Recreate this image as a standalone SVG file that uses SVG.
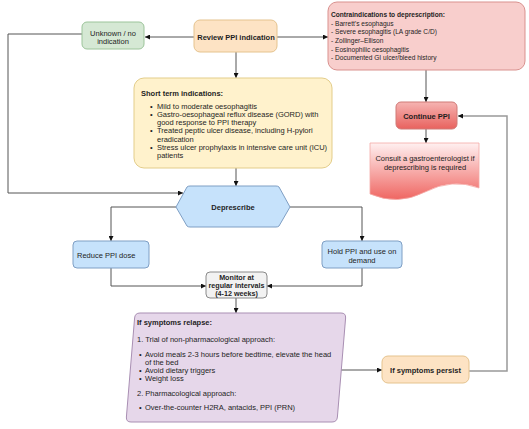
<svg xmlns="http://www.w3.org/2000/svg" width="529" height="429" viewBox="0 0 529 429">
<defs>
<style>
text{font-family:"Liberation Sans",Arial,sans-serif;font-size:7.5px;fill:#1e1e1e}
.b{font-weight:bold}
.c{text-anchor:middle}
.ci{font-size:6.6px}
.m{font-size:7.2px}
.ln{fill:none;stroke:#555;stroke-width:1}
.lnr{fill:none;stroke:#999;stroke-width:1.5}
</style>
<marker id="ar" viewBox="0 0 6 6" refX="6" refY="3" markerWidth="5" markerHeight="5" orient="auto" markerUnits="userSpaceOnUse">
<path d="M0,0 L6,3 L0,6 Z" fill="#111"/>
</marker>
<linearGradient id="gr1" x1="0" y1="0" x2="0" y2="1">
<stop offset="0" stop-color="#f6b4b2"/>
<stop offset="1" stop-color="#e8625e"/>
</linearGradient>
<linearGradient id="gr2" x1="0" y1="0" x2="0" y2="1">
<stop offset="0" stop-color="#fff0f0"/>
<stop offset="1" stop-color="#ef6662"/>
</linearGradient>
</defs>
<rect width="529" height="429" fill="#ffffff"/>

<g id="connectors">
<path class="ln" d="M194,37 H145" marker-end="url(#ar)"/>
<path class="ln" d="M277,37 H328" marker-end="url(#ar)"/>
<path class="ln" d="M236,52 V78" marker-end="url(#ar)"/>
<path class="ln" d="M82,34 H8 V193 H183" marker-end="url(#ar)"/>
<path class="ln" d="M236,168 V186" marker-end="url(#ar)"/>
<path class="ln" d="M426,70 V102" marker-end="url(#ar)"/>
<path class="ln" d="M426,129 V143" marker-end="url(#ar)"/>
<path class="ln" d="M176,207 H111 V241" marker-end="url(#ar)"/>
<path class="ln" d="M290,207 H362 V241" marker-end="url(#ar)"/>
<path class="ln" d="M111,268 V286 H206" marker-end="url(#ar)"/>
<path class="ln" d="M362,268 V286 H267" marker-end="url(#ar)"/>
<path class="ln" d="M236,298 V313" marker-end="url(#ar)"/>
<path class="ln" d="M341,370 H382" marker-end="url(#ar)"/>
<path class="lnr" d="M469,371 H507 V116 H458" marker-end="url(#ar)"/>
</g>

<g id="unknown">
<rect x="82" y="22" width="62" height="27" rx="5" fill="#d5e8d4" stroke="#9cc49a"/>
<text class="c" x="113" y="35.5">Unknown / no</text>
<text class="c" x="113" y="43.5">indication</text>
</g>

<g id="review">
<rect x="194" y="20" width="83" height="32" rx="6" fill="#fde3c4" stroke="#e5c38e"/>
<text class="b c" x="236" y="39.5">Review PPI indication</text>
</g>

<g id="contraindications">
<rect x="328" y="2" width="197" height="68" rx="9" fill="#f8cecc" stroke="#d9918e"/>
<text class="ci b" x="331" y="16.5">Contraindications to deprescription:</text>
<text class="ci" x="331" y="25.5">- Barrett’s esophagus</text>
<text class="ci" x="331" y="34.2">- Severe esophagitis (LA grade C/D)</text>
<text class="ci" x="331" y="42.9">- Zollinger–Ellison</text>
<text class="ci" x="331" y="51.6">- Eosinophilic oesophagitis</text>
<text class="ci" x="331" y="60.3">- Documented GI ulcer/bleed history</text>
</g>

<g id="short-term">
<rect x="134" y="78" width="198" height="90" rx="10" fill="#fff2cc" stroke="#e3cd8a"/>
<text class="b" x="141" y="95.5">Short term indications:</text>
<text x="150" y="108.5">•</text>
<text x="157" y="108.5">Mild to moderate oesophagitis</text>
<text x="150" y="116.8">•</text>
<text x="157" y="116.8">Gastro-oesophageal reflux disease (GORD) with</text>
<text x="157" y="125.1">good response to PPI therapy</text>
<text x="150" y="133.4">•</text>
<text x="157" y="133.4">Treated peptic ulcer disease, including H-pylori</text>
<text x="157" y="141.7">eradication</text>
<text x="150" y="150">•</text>
<text x="157" y="150">Stress ulcer prophylaxis in intensive care unit (ICU)</text>
<text x="157" y="158.3">patients</text>
</g>

<g id="continue">
<rect x="396" y="102" width="61" height="27" rx="5" fill="url(#gr1)" stroke="#d07a77"/>
<text class="b c" x="426.5" y="119">Continue PPI</text>
</g>

<g id="consult">
<path d="M370,143 H479 V188 Q452,178 425,192 Q398,206 370,194 Z" fill="url(#gr2)" stroke="#f4a9a6" stroke-width="0.8"/>
<text class="c" x="425" y="161">Consult a gastroenterologist if</text>
<text class="c" x="425" y="169.5">deprescribing is required</text>
</g>

<g id="deprescribe">
<path d="M176,207 L187,187 Q188,186 190,186 H276 Q278,186 279,187 L290,207 L279,226 Q278,227 276,227 H190 Q188,227 187,226 Z" fill="#c6e2fb" stroke="#7f9fc4"/>
<text class="b c" x="233" y="209.5">Deprescribe</text>
</g>

<g id="reduce">
<rect x="73" y="241" width="76" height="27" rx="4" fill="#c6e2fb" stroke="#7f9fc4"/>
<text x="77" y="257.5">Reduce PPI dose</text>
</g>

<g id="hold">
<rect x="322" y="241" width="80" height="27" rx="4" fill="#c6e2fb" stroke="#7f9fc4"/>
<text class="c" x="362" y="254">Hold PPI and use on</text>
<text class="c" x="362" y="262.5">demand</text>
</g>

<g id="monitor">
<rect x="206" y="272" width="61" height="26" rx="4" fill="#f2f2f2" stroke="#8a8a8a"/>
<text class="b c m" x="236.5" y="279.5">Monitor at</text>
<text class="b c m" x="236.5" y="288">regular intervals</text>
<text class="b c m" x="236.5" y="296">(4-12 weeks)</text>
</g>

<g id="relapse">
<path d="M140,313 H341 Q346,313 345.6,318 L337.4,417 Q337,422 332,422 H131 Q126,422 126.4,417 L134.6,318 Q135,313 140,313 Z" fill="#e6d7ea" stroke="#a98fb3"/>
<text class="b" x="137" y="325">If symptoms relapse:</text>
<text x="137" y="342">1. Trial of non-pharmacological approach:</text>
<text x="139" y="357">•</text>
<text x="145" y="357">Avoid meals 2-3 hours before bedtime, elevate the head</text>
<text x="145" y="365">of the bed</text>
<text x="139" y="373">•</text>
<text x="145" y="373">Avoid dietary triggers</text>
<text x="139" y="381">•</text>
<text x="145" y="381">Weight loss</text>
<text x="137" y="396">2. Pharmacological approach:</text>
<text x="139" y="410">•</text>
<text x="145" y="410">Over-the-counter H2RA, antacids, PPI (PRN)</text>
</g>

<g id="persist">
<rect x="382" y="356" width="87" height="27" rx="6" fill="#fde3c4" stroke="#e5c38e"/>
<text class="b c" x="425.5" y="372.5">If symptoms persist</text>
</g>
</svg>
